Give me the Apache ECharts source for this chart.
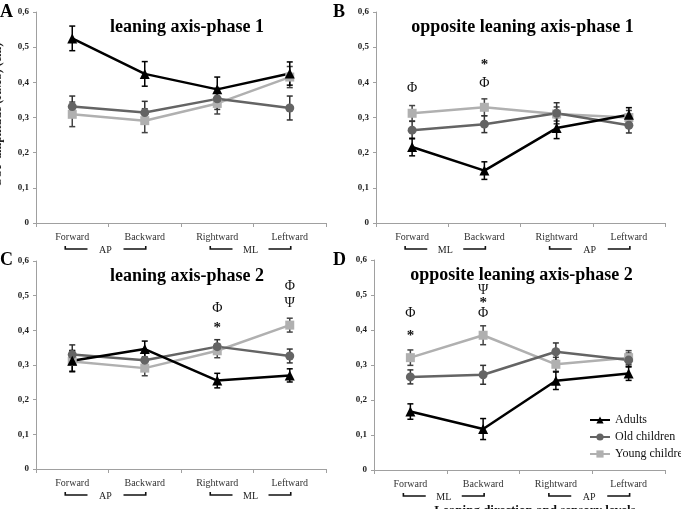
<!DOCTYPE html>
<html><head><meta charset="utf-8">
<script src="https://cdn.jsdelivr.net/npm/echarts@6/dist/echarts.min.js"></script>
<style>html,body{margin:0;padding:0;background:#fff}#c{width:681px;height:509px}</style>
</head><body><div id="c"></div>
<script>
const categories = ['Forward', 'Backward', 'Rightward', 'Leftward'];
const seriesNames = ['Adults', 'Old children', 'Young children'];
const yTicks = [0, 0.1, 0.2, 0.3, 0.4, 0.5, 0.6];
const panelLetters = ['A', 'B', 'C', 'D'];
const panelTitles = ['leaning axis-phase 1', 'opposite leaning axis-phase 1', 'leaning axis-phase 2', 'opposite leaning axis-phase 2'];
const bracketLabels = [['AP', 'ML'], ['ML', 'AP'], ['AP', 'ML'], ['ML', 'AP']];

// Panel A
const adultsA = [0.525, 0.424, 0.380, 0.425];
const adultsAErr = [0.035, 0.035, 0.035, 0.033];
const oldA = [0.331, 0.314, 0.353, 0.327];
const oldAErr = [0.030, 0.032, 0.030, 0.034];
const youngA = [0.309, 0.291, 0.340, 0.415];
const youngAErr = [0.035, 0.034, 0.030, 0.030];
const annotA = [];

// Panel B
const adultsB = [0.216, 0.149, 0.270, 0.308];
const adultsBErr = [0.025, 0.025, 0.030, 0.020];
const oldB = [0.264, 0.281, 0.312, 0.278];
const oldBErr = [0.025, 0.024, 0.030, 0.022];
const youngB = [0.312, 0.329, 0.310, 0.300];
const youngBErr = [0.022, 0.024, 0.020, 0.020];
const annotB = [[0, 0.384, 'Φ'], [1, 0.448, '*'], [1, 0.397, 'Φ']];

// Panel C
const adultsC = [0.312, 0.346, 0.255, 0.270];
const adultsCErr = [0.030, 0.023, 0.021, 0.019];
const oldC = [0.330, 0.314, 0.353, 0.326];
const oldCErr = [0.028, 0.020, 0.020, 0.020];
const youngC = [0.310, 0.291, 0.341, 0.415];
const youngCErr = [0.030, 0.022, 0.020, 0.020];
const annotC = [[2, 0.463, 'Φ'], [2, 0.405, '*'], [3, 0.527, 'Φ'], [3, 0.478, 'Ψ']];

// Panel D
const adultsD = [0.167, 0.117, 0.255, 0.276];
const adultsDErr = [0.022, 0.030, 0.025, 0.020];
const oldD = [0.266, 0.272, 0.338, 0.314];
const oldDErr = [0.020, 0.027, 0.025, 0.020];
const youngD = [0.321, 0.385, 0.302, 0.321];
const youngDErr = [0.022, 0.027, 0.020, 0.020];
const annotD = [[0, 0.448, 'Φ'], [0, 0.383, '*'], [1, 0.512, 'Ψ'], [1, 0.476, '*'], [1, 0.447, 'Φ']];

const panels = [
  {a: adultsA, ae: adultsAErr, o: oldA, oe: oldAErr, y: youngA, ye: youngAErr, ann: annotA},
  {a: adultsB, ae: adultsBErr, o: oldB, oe: oldBErr, y: youngB, ye: youngBErr, ann: annotB},
  {a: adultsC, ae: adultsCErr, o: oldC, oe: oldCErr, y: youngC, ye: youngCErr, ann: annotC},
  {a: adultsD, ae: adultsDErr, o: oldD, oe: oldDErr, y: youngD, ye: youngDErr, ann: annotD}
];

const SERIF = '"Liberation Serif","DejaVu Serif",serif';
const grids = [
  {left: 36, top: 12, width: 290, height: 211},
  {left: 376, top: 12, width: 289, height: 211},
  {left: 36, top: 261, width: 290, height: 208},
  {left: 374, top: 260, width: 291, height: 210}
];
const colors = ['#000000', '#646464', '#b0b0b0'];
const symbols = ['triangle', 'circle', 'rect'];
const symSizes = [10, 9, 9];
const errColors = ['#000000', '#333333', '#444444'];

const chart = echarts.init(document.getElementById('c'), null, {renderer: 'canvas'});

const xAxis = [], yAxis = [], series = [];
grids.forEach((g, i) => {
  xAxis.push({
    type: 'category', gridIndex: i, data: categories, boundaryGap: true,
    axisLine: {lineStyle: {color: '#a0a0a0', width: 1}},
    axisTick: {show: true, length: 4, lineStyle: {color: '#a0a0a0'}},
    axisLabel: {color: '#333', fontFamily: SERIF, fontSize: 10, margin: 9}
  });
  yAxis.push({
    type: 'value', gridIndex: i, min: 0, max: 0.6, interval: 0.1,
    splitLine: {show: false},
    axisLine: {show: true, lineStyle: {color: '#a0a0a0', width: 1}},
    axisTick: {show: true, length: 3, lineStyle: {color: '#a0a0a0'}},
    axisLabel: {color: '#222', fontFamily: SERIF, fontSize: 9, fontWeight: 'bold', margin: 7,
      formatter: v => (v === 0 ? '0' : v.toFixed(1).replace('.', ','))}
  });
  const p = panels[i];
  const vals = [p.a, p.o, p.y];
  const errs = [p.ae, p.oe, p.ye];
  // error bars
  [2, 1, 0].forEach(k => {
    const data = vals[k].map((v, j) => [j, v, errs[k][j]]);
    series.push({
      type: 'custom', xAxisIndex: i, yAxisIndex: i, data: data, silent: true, z: 3,
      renderItem: (params, api) => {
        const x = api.value(0), v = api.value(1), e = api.value(2);
        const top = api.coord([x, v + e]);
        const bot = api.coord([x, v - e]);
        const w = 3;
        const st = {stroke: errColors[k], lineWidth: 1.5};
        return {type: 'group', children: [
          {type: 'line', shape: {x1: top[0], y1: top[1], x2: bot[0], y2: bot[1]}, style: st},
          {type: 'line', shape: {x1: top[0] - w, y1: top[1], x2: top[0] + w, y2: top[1]}, style: st},
          {type: 'line', shape: {x1: bot[0] - w, y1: bot[1], x2: bot[0] + w, y2: bot[1]}, style: st}
        ]};
      }
    });
  });
  // lines
  [2, 1, 0].forEach(k => {
    series.push({
      name: seriesNames[k], type: 'line', xAxisIndex: i, yAxisIndex: i,
      data: vals[k], symbol: symbols[k], symbolSize: symSizes[k], z: 4,
      lineStyle: {color: colors[k], width: 2.5},
      itemStyle: {color: colors[k]}, animation: false
    });
  });
  // annotations
  series.push({
    type: 'custom', xAxisIndex: i, yAxisIndex: i, silent: true, z: 5,
    data: p.ann.map(a => [a[0], a[1], a[2]]),
    dimensions: ['x', 'y', {name: 't', type: 'ordinal'}],
    renderItem: (params, api) => {
      const pt = api.coord([api.value(0), api.value(1)]);
      const t = p.ann[params.dataIndex][2];
      return {type: 'text', x: pt[0], y: pt[1], style: {
        text: t, fill: '#111', align: 'center', verticalAlign: 'middle',
        font: (t === '*' ? 'bold 15px ' : '14px ') + SERIF
      }};
    }
  });
});

chart.setOption({
  animation: false,
  grid: grids.map(g => Object.assign({containLabel: false}, g)),
  xAxis: xAxis, yAxis: yAxis, series: series,
  legend: {
    data: seriesNames, orient: 'vertical', left: 584, top: 409,
    itemWidth: 20, itemHeight: 9, itemGap: 5,
    textStyle: {fontFamily: SERIF, fontSize: 12, color: '#111'}
  }
});

// Decorations tied to the axes
const gfx = [];
const letterPos = [[0, 3], [333, 3], [0, 251], [333, 251]];
grids.forEach((g, i) => {
  const cx = g.left + g.width / 2 + (i % 2 === 0 ? 6 : 2);
  gfx.push({type: 'text', left: letterPos[i][0], top: letterPos[i][1], style: {text: panelLetters[i], font: 'bold 18px ' + SERIF, fill: '#000'}});
  gfx.push({type: 'text', x: cx, y: g.top + 15, style: {text: panelTitles[i], font: 'bold 18px ' + SERIF, fill: '#000', align: 'center', verticalAlign: 'middle'}});
  const xs = categories.map((c, j) => chart.convertToPixel({xAxisIndex: i}, j));
  const by = g.top + g.height + 26;
  [[0, 1], [2, 3]].forEach((pair, b) => {
    const x1 = xs[pair[0]] - 7, x2 = xs[pair[1]] + 1;
    const mid = (x1 + x2) / 2;
    const gap = 18;
    const st = {stroke: '#111', lineWidth: 1.6};
    gfx.push({type: 'polyline', shape: {points: [[x1, by - 3], [x1, by], [mid - gap, by]]}, style: st});
    gfx.push({type: 'polyline', shape: {points: [[mid + gap, by], [x2, by], [x2, by - 3]]}, style: st});
    gfx.push({type: 'text', x: mid, y: by + 1, style: {text: bracketLabels[i][b], font: '10px ' + SERIF, fill: '#222', align: 'center', verticalAlign: 'middle'}});
  });
});
gfx.push({type: 'text', x: -2, y: 115, rotation: Math.PI / 2, style: {text: 'COP amplitude (RMS) (cm)', font: 'bold 12px ' + SERIF, fill: '#222', align: 'center', verticalAlign: 'middle'}});
gfx.push({type: 'text', x: 535, y: 504, style: {text: 'Leaning direction and sensory levels', font: 'bold 13px ' + SERIF, fill: '#111', align: 'center', verticalAlign: 'top'}});
chart.setOption({graphic: gfx});
</script>
</body></html>
